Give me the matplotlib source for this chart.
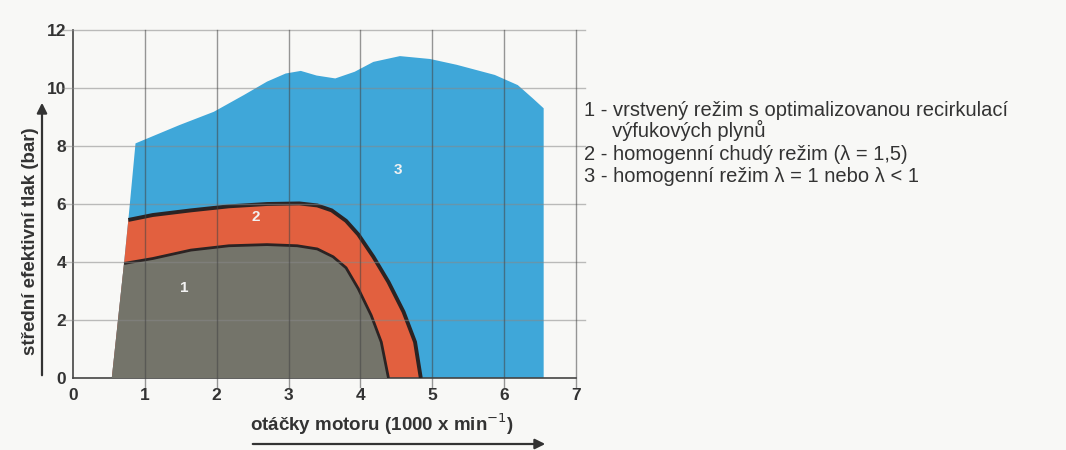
import numpy as np
import matplotlib.pyplot as plt
from matplotlib.patches import FancyArrowPatch

plt.rcParams['font.family'] = ['Liberation Sans', 'DejaVu Sans']

# region 3 (homogeneous) upper limit
top_x = [0.87, 1.48, 1.96, 2.38, 2.70, 2.96, 3.17, 3.39, 3.65, 3.92, 4.18, 4.55, 4.97, 5.34, 5.87, 6.19, 6.40, 6.55]
top_y = [8.09, 8.72, 9.18, 9.76, 10.22, 10.50, 10.59, 10.43, 10.33, 10.56, 10.90, 11.10, 11.00, 10.80, 10.45, 10.10, 9.64, 9.30]
# boundary between 2 and 3
red_x = [0.77, 1.11, 1.64, 2.17, 2.70, 3.15, 3.40, 3.60, 3.80, 3.97, 4.18, 4.39, 4.60, 4.76, 4.84]
red_y = [5.45, 5.62, 5.78, 5.92, 6.00, 6.02, 5.95, 5.78, 5.42, 4.95, 4.18, 3.31, 2.28, 1.24, 0.0]
# boundary between 1 and 2
gray_x = [0.71, 1.11, 1.64, 2.17, 2.70, 3.12, 3.40, 3.62, 3.80, 3.97, 4.15, 4.29, 4.39]
gray_y = [3.95, 4.12, 4.41, 4.56, 4.60, 4.56, 4.45, 4.18, 3.80, 3.08, 2.16, 1.24, 0.0]
start_x = 0.54

legend_lines = ['1 - vrstvený režim s optimalizovanou recirkulací',
                '     výfukových plynů',
                '2 - homogenní chudý režim (λ = 1,5)',
                '3 - homogenní režim λ = 1 nebo λ < 1']

c_blue = '#3fa7d9'
c_red = '#e2603f'
c_gray = '#74746a'
c_edge = '#2b2323'
c_txt = '#333333'

fig = plt.figure(figsize=(10.66, 4.5), dpi=100, facecolor='#f8f8f6')
ax = fig.add_axes([73/1066, 72/450, 503/1066, 348/450])
ax.set_facecolor('#f8f8f6')

# filled areas
bx = [start_x] + [gray_x[0], red_x[0]] + top_x + [top_x[-1]]
by = [0.0] + [gray_y[0], red_y[0]] + top_y + [0.0]
ax.fill(bx, by, color=c_blue, lw=0, zorder=1)
rx = [start_x, gray_x[0]] + red_x
ry = [0.0, gray_y[0]] + red_y
ax.fill(rx, ry, color=c_red, lw=0, zorder=2)
gx = [start_x] + gray_x
gy = [0.0] + gray_y
ax.fill(gx, gy, color=c_gray, lw=0, zorder=3)
ax.plot(red_x, red_y, color=c_edge, lw=2.8, zorder=4, solid_capstyle='butt')
ax.plot(gray_x, gray_y, color=c_edge, lw=2.0, zorder=4, solid_capstyle='butt')

# grid over the areas
for yv in range(2, 13, 2):
    ax.plot([-0.15, 7.12], [yv, yv], color='#888888', lw=1.0, alpha=0.55, zorder=5, clip_on=False)
for xv in range(1, 8):
    ax.plot([xv, xv], [-0.3, 12], color='#444444', lw=1.0, alpha=0.55, zorder=5, clip_on=False)

ax.set_xlim(0, 7)
ax.set_ylim(0, 12)
ax.set_xticks(range(0, 8))
ax.set_yticks(range(0, 13, 2))
ax.tick_params(length=0, labelsize=12.5, labelcolor=c_txt)
ax.tick_params(axis='x', pad=7)
ax.tick_params(axis='y', pad=5)
for lab in ax.get_xticklabels() + ax.get_yticklabels():
    lab.set_fontweight('bold')
for s in ['top', 'right']:
    ax.spines[s].set_visible(False)
ax.spines['left'].set_color('#444444')
ax.spines['bottom'].set_color('#444444')
ax.spines['left'].set_linewidth(1.2)
ax.spines['bottom'].set_linewidth(1.2)

# region numbers
ax.text(1.55, 3.1, '1', color='#f2f2f2', fontsize=11, fontweight='bold', ha='center', va='center', zorder=6)
ax.text(2.54, 5.56, '2', color='#f2f2f2', fontsize=11, fontweight='bold', ha='center', va='center', zorder=6)
ax.text(4.52, 7.17, '3', color='#f2f2f2', fontsize=11, fontweight='bold', ha='center', va='center', zorder=6)

# axis labels with arrows
fig.text(31/1066, 1 - 241/450, 'střední efektivní tlak (bar)', rotation=90, ha='center', va='center',
         fontsize=13.5, fontweight='bold', color=c_txt)
fig.text(250/1066, 1 - 424/450, 'otáčky motoru (1000 x min$^{-1}$)', ha='left', va='center',
         fontsize=13.5, fontweight='bold', color=c_txt)
fig.add_artist(FancyArrowPatch((42/1066, 1 - 378/450), (42/1066, 1 - 100/450),
               transform=fig.transFigure, arrowstyle='-|>', mutation_scale=15, color='#333333', lw=1.6))
fig.add_artist(FancyArrowPatch((250/1066, 1 - 444/450), (548/1066, 1 - 444/450),
               transform=fig.transFigure, arrowstyle='-|>', mutation_scale=15, color='#333333', lw=1.6))

# description of regions
ys = [110, 130, 155, 177]
for t, yp in zip(legend_lines, ys):
    fig.text(584/1066, 1 - yp/450, t, ha='left', va='center', fontsize=14.5, color=c_txt)

fig.savefig('out.png', dpi=100, facecolor=fig.get_facecolor())
